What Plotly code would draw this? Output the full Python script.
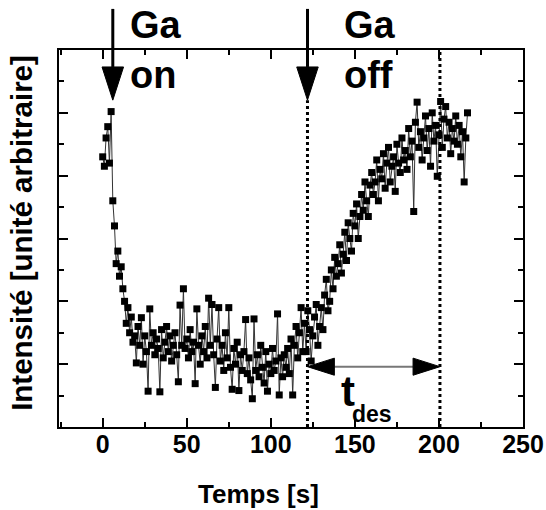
import plotly.graph_objects as go

# ---- data ----
time_s = list(range(0, 218))
intensity = [
    4.3, 4.15, 4.6, 4.78, 4.2, 5.02,
    3.6, 3.2, 2.6, 2.8, 2.4, 2.55, 2.2, 2.0, 1.65, 1.9, 1.5, 1.75, 1.35, 1.45,
    1.02, 1.6, 1.3, 1.74, 1.0, 1.45, 1.2, 0.57, 1.88, 1.3,
    1.5, 1.15, 1.4, 1.25, 0.56, 1.55, 1.1, 1.35, 1.6, 1.2,
    1.45, 1.05, 1.3, 1.5, 1.15, 0.72, 1.94, 1.3, 2.2, 1.25,
    1.4, 1.1, 1.55, 1.2, 1.35, 0.69, 1.88, 1.3, 1.0, 1.45,
    1.2, 1.6, 1.1, 2.05, 1.3, 1.95, 1.15, 0.63, 1.4, 1.9,
    1.05, 1.3, 0.9, 1.5, 1.1, 1.9, 0.95, 0.6, 1.25, 1.0,
    1.35, 0.58, 1.15, 0.9, 1.2, 1.71, 0.85, 1.1, 0.75, 0.45,
    1.72, 0.9, 1.15, 0.8, 1.3, 0.95, 0.7, 1.2, 0.57, 1.0,
    0.85, 1.25, 0.9, 1.05, 1.8, 0.51, 1.1, 0.8, 1.15, 0.95,
    1.25, 0.85, 1.4, 0.51, 1.3, 1.6, 1.1, 1.5, 1.9, 1.2,
    1.65, 1.2, 1.85, 1.55, 1.05, 1.45, 1.75, 1.95, 1.3, 1.6,
    1.9, 1.55, 2.1, 2.35, 1.85, 2.0, 2.5, 2.2, 2.7, 2.4,
    2.6, 2.9, 2.45, 2.75, 3.1, 2.65, 3.25, 3.0, 2.8, 3.4,
    3.2, 3.55, 3.0, 3.35, 3.7, 3.45, 3.9, 3.6, 3.35, 3.85,
    4.05, 3.7, 3.9, 4.25, 3.6, 4.1, 3.95, 4.35, 3.8, 4.2,
    4.45, 3.9, 4.15, 4.3, 3.75, 4.5, 4.2, 4.05, 4.6, 4.25,
    4.4, 4.1, 4.75, 4.3, 4.55, 3.43, 4.85, 5.17, 4.45, 4.7,
    4.25, 4.6, 4.95, 4.4, 4.75, 4.15, 5.0, 4.55, 4.8, 3.99,
    4.65, 5.18, 4.45, 4.9, 5.1, 4.6, 4.85, 4.35, 4.75, 4.55,
    4.95, 4.5, 4.8, 4.3, 4.7, 3.9, 4.6, 5.0,
]

x_ticks = [0, 50, 100, 150, 200, 250]
x_tick_labels = ["0", "50", "100", "150", "200", "250"]

t_on = 6.0        # Ga shutter opened
t_off = 121.8     # Ga shutter closed
t_end = 200.6     # end of desorption
y_tdes = 0.96     # height of the t_des double arrow

FONT = "Liberation Sans, Arial, sans-serif"

fig = go.Figure()
fig.add_trace(go.Scatter(
    x=time_s, y=intensity, mode="lines+markers",
    line=dict(color="#333333", width=1),
    marker=dict(symbol="square", size=7, color="black"),
    showlegend=False,
))

shapes = []
# vertical "Ga on" / "Ga off" arrows (above the plot)
arrow_half_w = 6.4
for t in (t_on, t_off):
    shapes.append(dict(type="line", xref="x", yref="paper", x0=t, x1=t, y0=0.955, y1=1.109,
                       line=dict(color="black", width=3)))
    shapes.append(dict(type="path", xref="x", yref="paper",
                       path=f"M {t-arrow_half_w},0.955 L {t+arrow_half_w},0.955 L {t},0.867 Z",
                       fillcolor="black", line=dict(color="black", width=1)))
# dashed vertical lines
shapes.append(dict(type="line", xref="x", yref="paper", x0=t_off, x1=t_off, y0=0, y1=0.867,
                   line=dict(color="black", width=3, dash="dot")))
shapes.append(dict(type="line", xref="x", yref="paper", x0=t_end, x1=t_end, y0=0, y1=1,
                   line=dict(color="black", width=3, dash="dot")))
# t_des double arrow
head_len = 16.0
head_h = 0.136
shapes.append(dict(type="line", xref="x", yref="y", x0=t_off + head_len, x1=t_end - head_len,
                   y0=y_tdes, y1=y_tdes, line=dict(color="#777777", width=2)))
shapes.append(dict(type="path", xref="x", yref="y",
                   path=f"M {t_off},{y_tdes} L {t_off+head_len},{y_tdes+head_h} L {t_off+head_len},{y_tdes-head_h} Z",
                   fillcolor="black", line=dict(color="black", width=1)))
shapes.append(dict(type="path", xref="x", yref="y",
                   path=f"M {t_end},{y_tdes} L {t_end-head_len},{y_tdes+head_h} L {t_end-head_len},{y_tdes-head_h} Z",
                   fillcolor="black", line=dict(color="black", width=1)))

big = dict(family=FONT, size=38, color="black", weight="bold")
annotations = [
    dict(text="Ga", x=15, y=1.066, xref="x", yref="paper", xanchor="left", yanchor="middle", showarrow=False, font=big),
    dict(text="on", x=15, y=0.935, xref="x", yref="paper", xanchor="left", yanchor="middle", showarrow=False, font=big),
    dict(text="Ga", x=142.4, y=1.066, xref="x", yref="paper", xanchor="left", yanchor="middle", showarrow=False, font=big),
    dict(text="off", x=142.4, y=0.935, xref="x", yref="paper", xanchor="left", yanchor="middle", showarrow=False, font=big),
    dict(text="t", x=140.5, y=0.57, xref="x", yref="y", xanchor="left", yanchor="middle", showarrow=False,
         font=dict(family=FONT, size=42, color="black", weight="bold")),
    dict(text="des", x=147.0, y=0.2, xref="x", yref="y", xanchor="left", yanchor="middle", showarrow=False,
         font=dict(family=FONT, size=23, color="black", weight="bold")),
    dict(text="Temps [s]", x=0.429, y=-0.178, xref="paper", yref="paper", xanchor="center", yanchor="middle",
         showarrow=False, font=dict(family=FONT, size=26, color="black", weight="bold")),
    dict(text="Intensité [unité arbitraire]", x=-0.0797, y=0.515, xref="paper", yref="paper",
         xanchor="center", yanchor="middle", textangle=-90, showarrow=False,
         font=dict(family=FONT, size=29.5, color="black", weight="bold")),
]

fig.update_layout(
    width=546, height=510,
    margin=dict(l=59, r=23, t=50, b=83),
    paper_bgcolor="white", plot_bgcolor="white",
    shapes=shapes, annotations=annotations,
    xaxis=dict(range=[-26, 250], tickvals=x_ticks, ticktext=x_tick_labels, automargin=False,
               showline=True, linecolor="black", linewidth=2, mirror="allticks",
               ticks="inside", ticklen=9, tickwidth=2, tickcolor="black", ticklabelstandoff=-6,
               minor=dict(dtick=25, tick0=0, ticks="inside", ticklen=5, tickwidth=2, tickcolor="black"),
               showgrid=False, zeroline=False,
               tickfont=dict(family=FONT, size=25, color="black", weight="bold")),
    yaxis=dict(range=[0, 6], dtick=1, tick0=0, showticklabels=False, automargin=False,
               showline=True, linecolor="black", linewidth=2, mirror="allticks",
               ticks="inside", ticklen=9, tickwidth=2, tickcolor="black",
               minor=dict(dtick=0.5, tick0=0, ticks="inside", ticklen=5, tickwidth=2, tickcolor="black"),
               showgrid=False, zeroline=False),
)

# remove the default 8px page margin so the 546x510 figure fills the window exactly
fig.write_html("out.html", config={"displayModeBar": False},
               post_script="document.body.style.margin='0';document.body.style.overflow='hidden';")
